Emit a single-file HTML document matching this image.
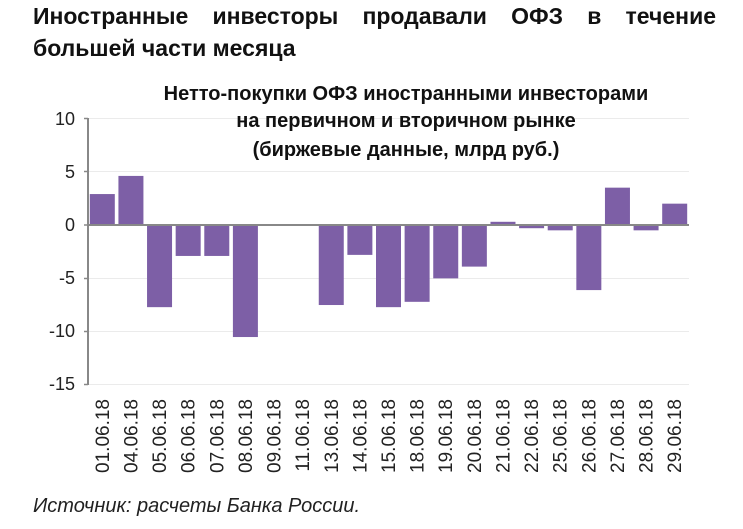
<!DOCTYPE html>
<html><head><meta charset="utf-8"><style>
body{margin:0;background:#fff;width:743px;height:529px;overflow:hidden;font-family:"Liberation Sans",sans-serif}
.h{position:absolute;left:33px;width:683px;font-weight:bold;font-size:23px;color:#111;}
</style></head><body>
<div class="h" style="top:3px;text-align:justify;text-align-last:justify">Иностранные инвесторы продавали ОФЗ в течение</div>
<div class="h" style="top:35px">большей части месяца</div>
<svg width="743" height="529" style="position:absolute;left:0;top:0" font-family="Liberation Sans, sans-serif">
<g stroke="#ebebeb" stroke-width="1">
<line x1="88" x2="689" y1="118.5" y2="118.5"/><line x1="88" x2="689" y1="171.5" y2="171.5"/>
<line x1="88" x2="689" y1="278.5" y2="278.5"/><line x1="88" x2="689" y1="331.5" y2="331.5"/><line x1="88" x2="689" y1="384.5" y2="384.5"/>
</g>
<g id="bars" fill="#7d5fa6"></g>
<line x1="88" x2="88" y1="118" y2="385" stroke="#888" stroke-width="2"/>
<line x1="88" x2="689" y1="225" y2="225" stroke="#888" stroke-width="2"/>
<g stroke="#888" stroke-width="1.5"><line x1="84" x2="88" y1="118.5" y2="118.5"/><line x1="84" x2="88" y1="171.5" y2="171.5"/><line x1="84" x2="88" y1="225" y2="225"/><line x1="84" x2="88" y1="278.5" y2="278.5"/><line x1="84" x2="88" y1="331.5" y2="331.5"/><line x1="84" x2="88" y1="384.5" y2="384.5"/></g>
<g font-size="18" fill="#222" text-anchor="end">
<text x="75" y="125">10</text><text x="75" y="178">5</text><text x="75" y="231">0</text><text x="75" y="284">-5</text><text x="75" y="337">-10</text><text x="75" y="390">-15</text>
</g>
<g font-size="20" font-weight="bold" fill="#111" text-anchor="middle">
<text x="406" y="100">Нетто-покупки ОФЗ иностранными инвесторами</text>
<text x="406" y="127">на первичном и вторичном рынке</text>
<text x="406" y="156">(биржевые данные, млрд руб.)</text>
</g>
<g id="lbl" font-size="19" fill="#222" text-anchor="end"></g>
<text x="33" y="512" font-size="20" font-style="italic" fill="#222">Источник: расчеты Банка России.</text>
</svg>
<script>
var v=[2.9,4.6,-7.7,-2.9,-2.9,-10.5,0,0,-7.5,-2.8,-7.7,-7.2,-5.0,-3.9,0.3,-0.3,-0.5,-6.1,3.5,-0.5,2.0];
var d=["01","04","05","06","07","08","09","11","13","14","15","18","19","20","21","22","25","26","27","28","29"];
var ns="http://www.w3.org/2000/svg",b=document.getElementById("bars"),l=document.getElementById("lbl");
var w=601/21;
for(var i=0;i<21;i++){var cx=88+w*(i+0.5);
if(v[i]!=0){var r=document.createElementNS(ns,"rect");var h=Math.abs(v[i])*10.67;
r.setAttribute("x",cx-12.5);r.setAttribute("width",25);r.setAttribute("y",v[i]>0?225-h:225);r.setAttribute("height",h);b.appendChild(r);}
var t=document.createElementNS(ns,"text");t.setAttribute("transform","translate("+(cx+6.5)+",399) rotate(-90)");t.textContent=d[i]+".06.18";l.appendChild(t);}
</script>
</body></html>
